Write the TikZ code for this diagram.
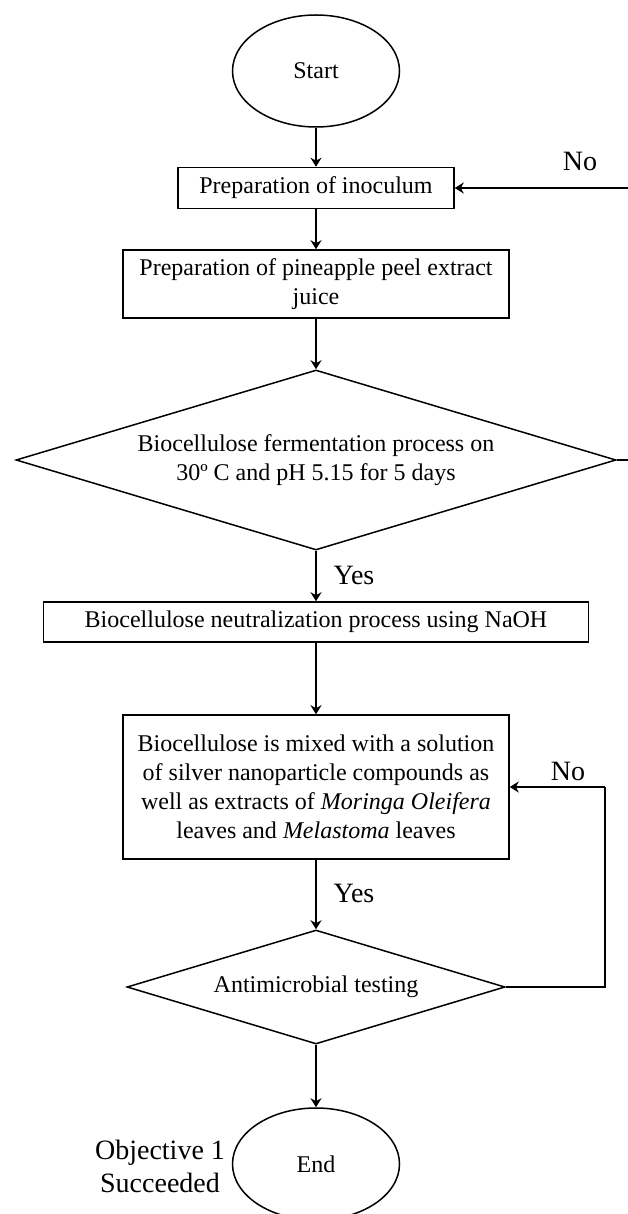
\documentclass[tikz,border=0pt]{standalone}
\usepackage{fontspec}
\setmainfont{Liberation Serif}
\usetikzlibrary{shapes.geometric,arrows.meta}
\begin{document}
\begin{tikzpicture}[x=1pt,y=-1pt,
  every node/.style={font=\fontsize{24}{29}\selectfont, align=center, inner sep=0pt},
  box/.style={draw, line width=1.5pt, rectangle},
  term/.style={draw, line width=1.5pt, ellipse, minimum width=167pt, minimum height=112pt},
  dec/.style={draw, line width=1.5pt, diamond, aspect=3.3},
  lbl/.style={font=\fontsize{28}{33}\selectfont},
  arr/.style={line width=1.5pt, -{Stealth[length=9pt,width=11pt]}},
  ln/.style={line width=1.5pt}]
\useasboundingbox (0,0) rectangle (628,1214);

\node[term] (start) at (316,71) {Start};
\node[box, minimum width=276pt, minimum height=41pt] (inoc) at (316,188) {Preparation of inoculum};
\node[box, minimum width=386pt, minimum height=68pt] (juice) at (316,284) {Preparation of pineapple peel extract\\juice};
\node[dec, minimum width=600pt, minimum height=180pt] (ferm) at (316,460) {Biocellulose fermentation process on\\30º C and pH 5.15 for 5 days};
\node[box, minimum width=545pt, minimum height=40pt] (neut) at (316,622) {Biocellulose neutralization process using NaOH};
\node[box, minimum width=386pt, minimum height=144pt] (mix) at (316,787) {Biocellulose is mixed with a solution\\of silver nanoparticle compounds as\\well as extracts of \textit{Moringa Oleifera}\\leaves and \textit{Melastoma} leaves};
\node[dec, minimum width=378pt, minimum height=114pt] (test) at (316,987) {Antimicrobial testing};
\node[term] (end) at (316,1164) {End};

\node[lbl] (no1) at (580,161) {No};
\node[lbl] (yes1) at (354,575) {Yes};
\node[lbl] (no2) at (568,771) {No};
\node[lbl] (yes2) at (354,893) {Yes};
\node[lbl] (obj) at (160,1166) {Objective 1\\Succeeded};

\coordinate (r1) at (631,460);
\coordinate (r2) at (631,188);
\coordinate (q1) at (605,987);
\coordinate (q2) at (605,787);

\draw[arr] (start.south) -- (inoc.north);
\draw[arr] (inoc.south) -- (juice.north);
\draw[arr] (juice.south) -- (ferm.north);
\draw[arr] (ferm.south) -- (neut.north);
\draw[arr] (neut.south) -- (mix.north);
\draw[arr] (mix.south) -- (test.north);
\draw[arr] (test.south) -- (end.north);
\draw[ln] (ferm.east) -- (r1) -- (r2);
\draw[arr] (r2) -- (inoc.east);
\draw[ln] (test.east) -- (q1) -- (q2);
\draw[arr] (q2) -- (mix.east);
\end{tikzpicture}
\end{document}
